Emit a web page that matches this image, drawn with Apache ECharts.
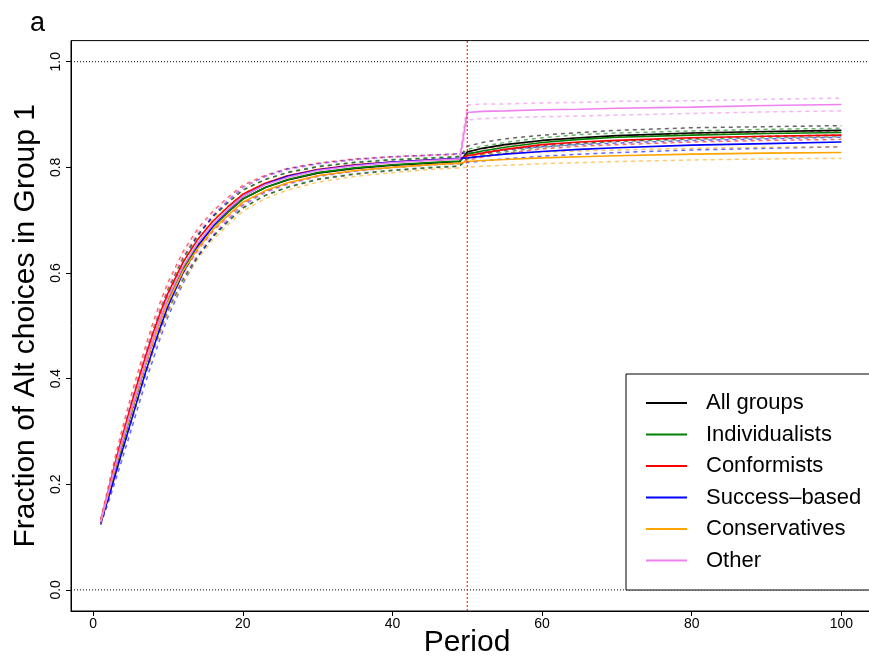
<!DOCTYPE html>
<html>
<head>
<meta charset="utf-8">
<script src="https://cdn.jsdelivr.net/npm/echarts@6/dist/echarts.min.js"></script>
<style>html,body{margin:0;padding:0;background:#fff}#chart{width:869px;height:659px}</style>
</head>
<body>
<div id="chart"></div>
<script>
// ---- data ----
const periods = [1,2,3,4,5,6,7,8,9,10,12,14,16,18,20,23,26,30,35,40,45,49,50,52,55,60,65,70,80,90,100];
const groupNames = ['All groups','Individualists','Conformists','Success–based','Conservatives','Other'];
const allGroups      = [0.128,0.180,0.233,0.283,0.332,0.380,0.428,0.472,0.512,0.549,0.608,0.653,0.688,0.715,0.740,0.762,0.776,0.789,0.798,0.804,0.808,0.811, 0.829,0.836,0.843,0.851,0.856,0.860,0.865,0.868,0.870];
const individualists = [0.128,0.179,0.232,0.282,0.331,0.379,0.427,0.471,0.511,0.548,0.607,0.652,0.687,0.715,0.740,0.762,0.777,0.790,0.799,0.805,0.809,0.812, 0.825,0.831,0.838,0.847,0.853,0.857,0.861,0.864,0.866];
const conformists    = [0.129,0.186,0.243,0.296,0.347,0.395,0.442,0.486,0.526,0.562,0.620,0.664,0.698,0.725,0.749,0.770,0.784,0.796,0.805,0.810,0.814,0.816, 0.822,0.827,0.834,0.843,0.848,0.851,0.856,0.859,0.861];
const successBased   = [0.126,0.172,0.220,0.268,0.316,0.364,0.412,0.456,0.498,0.537,0.600,0.650,0.689,0.719,0.745,0.768,0.783,0.795,0.804,0.810,0.814,0.817, 0.818,0.821,0.825,0.830,0.834,0.837,0.842,0.845,0.848];
const conservatives  = [0.128,0.181,0.234,0.284,0.333,0.380,0.427,0.470,0.509,0.545,0.603,0.647,0.682,0.709,0.734,0.756,0.771,0.784,0.794,0.800,0.805,0.808, 0.811,0.813,0.815,0.818,0.820,0.822,0.825,0.827,0.828];
const other          = [0.129,0.183,0.237,0.288,0.337,0.385,0.432,0.476,0.516,0.553,0.612,0.657,0.692,0.720,0.745,0.767,0.781,0.794,0.803,0.809,0.813,0.816, 0.904,0.906,0.907,0.909,0.910,0.912,0.914,0.917,0.919];
// confidence-band half widths (phase 1 shared, phase 2 per group)
const ciPhase1     = [0.003,0.008,0.012,0.015,0.017,0.018,0.019,0.020,0.020,0.020,0.020,0.020,0.019,0.018,0.017,0.015,0.014,0.012,0.011,0.010,0.009,0.009];
const ciAllGroups  = [0.011,0.011,0.011,0.010,0.010,0.010,0.010,0.009,0.009];
const ciIndiv      = [0.009,0.009,0.009,0.009,0.009,0.008,0.008,0.008,0.008];
const ciConform    = [0.008,0.008,0.008,0.008,0.008,0.008,0.008,0.008,0.008];
const ciSuccess    = [0.009,0.009,0.009,0.009,0.009,0.009,0.009,0.009,0.009];
const ciConserv    = [0.011,0.011,0.011,0.011,0.011,0.011,0.011,0.011,0.011];
const ciOther      = [0.014,0.014,0.013,0.013,0.013,0.013,0.012,0.012,0.012];
const xTicks = [0,20,40,60,80,100];
const yTicks = [0,0.2,0.4,0.6,0.8,1.0];
const hLines = [0, 1];
const switchPeriod = 50;
const X_MIN = -2.96, X_MAX = 103.96, Y_MIN = -0.04, Y_MAX = 1.04;

const colors = ['#000000','#008000','#ff0000','#0000ff','#ffa500','#ee82ee'];
const means = [allGroups, individualists, conformists, successBased, conservatives, other];
const cis = [ciAllGroups, ciIndiv, ciConform, ciSuccess, ciConserv, ciOther].map(a => ciPhase1.concat(a));

const FONT = 'Liberation Sans, Arial, Helvetica, sans-serif';
const series = [];
// reference lines: dotted black at 0 and 1
hLines.forEach(v => series.push({
  name: 'ref ' + v, type: 'line', symbol: 'none', silent: true, z: 1,
  data: [[X_MIN, v], [X_MAX, v]],
  lineStyle: {color: '#000000', type: [1, 2], width: 1}
}));
means.forEach((m, g) => {
  const up = m.map((v, i) => [periods[i], +(v + cis[g][i]).toFixed(4)]);
  const lo = m.map((v, i) => [periods[i], +(v - cis[g][i]).toFixed(4)]);
  [up, lo].forEach((d, k) => series.push({
    name: groupNames[g] + (k ? ' lower' : ' upper'), type: 'line', data: d,
    symbol: 'none', silent: true, z: 2,
    lineStyle: {color: colors[g], width: 1.5, type: [4, 4], opacity: 0.6}
  }));
});
means.forEach((m, g) => series.push({
  name: groupNames[g], type: 'line', symbol: 'none', z: 3,
  data: m.map((v, i) => [periods[i], v]),
  itemStyle: {color: colors[g]},
  lineStyle: {color: colors[g], width: 1.6}
}));
// dotted red line at the switch period
series.push({
  name: 'switch', type: 'line', symbol: 'none', silent: true, z: 4,
  data: [[switchPeriod, Y_MIN], [switchPeriod, Y_MAX]],
  itemStyle: {color: '#ff0000'},
  lineStyle: {color: '#ff0000', type: [2, 2], width: 1.2, opacity: 0.85}
});

const chart = echarts.init(document.getElementById('chart'), null, {renderer: 'canvas'});
chart.setOption({
  animation: false,
  backgroundColor: '#fff',
  textStyle: {fontFamily: FONT},
  title: {text: 'a', left: 25, top: 5, textStyle: {fontFamily: FONT, fontSize: 27, fontWeight: 'normal', color: '#000'}},
  grid: {left: 71, top: 40.6, width: 800, height: 570.4, show: true, borderColor: '#000', borderWidth: 1,
    containLabel: false, outerBoundsMode: 'none'},
  xAxis: {
    type: 'value', min: X_MIN, max: X_MAX,
    name: 'Period', nameLocation: 'middle', nameGap: 17, nameMoveOverlap: false,
    nameTextStyle: {fontFamily: FONT, fontSize: 30, color: '#000', padding: [0, 8, 0, 0]},
    axisLine: {show: true, onZero: false, lineStyle: {color: '#000', width: 1}},
    axisTick: {show: true, length: 5, lineStyle: {color: '#000'}, customValues: xTicks},
    axisLabel: {customValues: xTicks, color: '#000', fontSize: 14, margin: 6, fontFamily: FONT},
    splitLine: {show: false}
  },
  yAxis: {
    type: 'value', min: Y_MIN, max: Y_MAX,
    name: 'Fraction of Alt choices in Group 1', nameLocation: 'middle', nameGap: 19,
    nameTextStyle: {fontFamily: FONT, fontSize: 30, color: '#000'},
    axisLine: {show: true, onZero: false, lineStyle: {color: '#000', width: 1}},
    axisTick: {show: true, length: 5, lineStyle: {color: '#000'}, customValues: yTicks},
    axisLabel: {customValues: yTicks, rotate: 90, color: '#000', fontSize: 14, margin: 8, fontFamily: FONT,
      formatter: v => v.toFixed(1)},
    splitLine: {show: false}
  },
  legend: {
    data: groupNames, orient: 'vertical', left: 626, top: 374,
    padding: [18, 80, 18.5, 19], itemGap: 9.5, itemWidth: 41, itemHeight: 22,
    backgroundColor: '#fff', borderColor: '#000', borderWidth: 1, borderRadius: 0,
    selectedMode: false,
    itemStyle: {opacity: 0},
    textStyle: {fontFamily: FONT, fontSize: 22, color: '#000', lineHeight: 22, padding: [0, 0, 0, 14]}
  },
  series: series
});
</script>
</body>
</html>
